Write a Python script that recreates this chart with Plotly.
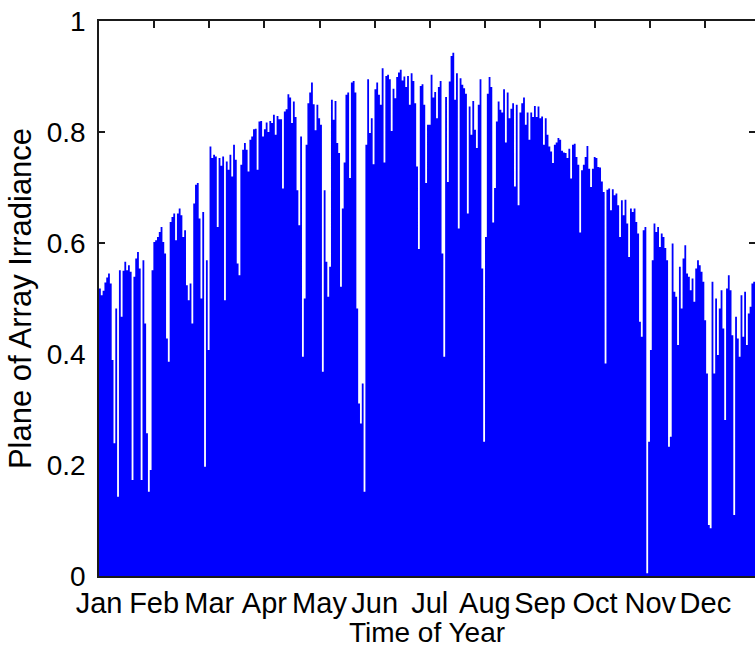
import numpy as np
import plotly.graph_objects as go

# Daily peak plane-of-array irradiance (normalised), in six ~2-month blocks
irr_jan_feb = [0.518, 0.506, 0.514, 0.529, 0.538, 0.545, 0.527, 0.389, 0.239, 0.482,
               0.143, 0.551, 0.467, 0.550, 0.566, 0.551, 0.560, 0.548, 0.173, 0.539,
               0.572, 0.584, 0.554, 0.173, 0.569, 0.455, 0.257, 0.152, 0.191, 0.551,
               0.602, 0.605, 0.611, 0.620, 0.629, 0.602, 0.581, 0.428, 0.386, 0.638,
               0.647, 0.653, 0.605, 0.653, 0.662, 0.650, 0.611, 0.623, 0.524, 0.497,
               0.527, 0.455, 0.671, 0.705, 0.708, 0.644, 0.500, 0.656, 0.197, 0.569,
               0.407]
irr_mar_apr = [0.774, 0.753, 0.759, 0.756, 0.629, 0.753, 0.739, 0.756, 0.497, 0.747,
               0.732, 0.759, 0.720, 0.777, 0.750, 0.563, 0.542, 0.741, 0.768, 0.780,
               0.768, 0.729, 0.786, 0.792, 0.805, 0.806, 0.732, 0.819, 0.820, 0.792,
               0.805, 0.817, 0.800, 0.820, 0.816, 0.831, 0.795, 0.829, 0.823, 0.823,
               0.698, 0.837, 0.841, 0.868, 0.862, 0.816, 0.855, 0.827, 0.695, 0.632,
               0.792, 0.395, 0.500, 0.777, 0.852, 0.871, 0.889, 0.850, 0.803, 0.849]
irr_may_jun = [0.825, 0.813, 0.368, 0.695, 0.566, 0.503, 0.557, 0.858, 0.822, 0.856,
               0.780, 0.762, 0.521, 0.662, 0.745, 0.867, 0.871, 0.717, 0.889, 0.892,
               0.871, 0.482, 0.311, 0.275, 0.347, 0.152, 0.777, 0.895, 0.798, 0.825,
               0.742, 0.877, 0.889, 0.867, 0.849, 0.915, 0.745, 0.901, 0.903, 0.895,
               0.802, 0.878, 0.861, 0.899, 0.907, 0.912, 0.893, 0.900, 0.881,
               0.901, 0.849, 0.906, 0.892, 0.852, 0.738, 0.589, 0.883, 0.886, 0.849,
               0.708, 0.813]
irr_jul_aug = [0.813, 0.903, 0.862, 0.872, 0.825, 0.881, 0.892, 0.581, 0.395, 0.863,
               0.710, 0.891, 0.937, 0.943, 0.858, 0.906, 0.626, 0.897, 0.885, 0.879,
               0.869, 0.653, 0.846, 0.795, 0.856, 0.804, 0.771, 0.849, 0.895, 0.554,
               0.242, 0.611, 0.869, 0.899, 0.881, 0.637, 0.699, 0.819, 0.855, 0.840,
               0.835, 0.877, 0.781, 0.871, 0.825, 0.842, 0.852, 0.702, 0.849, 0.668,
               0.835, 0.852, 0.862, 0.813, 0.835, 0.786, 0.835, 0.827, 0.847, 0.827,
               0.846]
irr_sep_oct = [0.825, 0.828, 0.777, 0.825, 0.795, 0.774, 0.765, 0.744, 0.777, 0.781,
               0.789, 0.786, 0.766, 0.763, 0.762, 0.753, 0.770, 0.716, 0.777, 0.779,
               0.755, 0.741, 0.619, 0.731, 0.741, 0.755, 0.775, 0.734, 0.701, 0.734,
               0.755, 0.753, 0.737, 0.736, 0.711, 0.692, 0.383, 0.696, 0.698, 0.659,
               0.697, 0.686, 0.689, 0.668, 0.611, 0.677, 0.650, 0.678, 0.635, 0.575,
               0.662, 0.656, 0.662, 0.638, 0.617, 0.458, 0.431, 0.623, 0.629, 0.005,
               0.242]
irr_nov_dec = [0.407, 0.569, 0.635, 0.620, 0.629, 0.593, 0.617, 0.611, 0.591, 0.569, 0.233,
               0.251, 0.599, 0.512, 0.503, 0.416, 0.557, 0.482, 0.572, 0.596, 0.545,
               0.539, 0.515, 0.536, 0.494, 0.554, 0.569, 0.560, 0.548, 0.530, 0.461,
               0.365, 0.092, 0.086, 0.530, 0.365, 0.500, 0.398, 0.482, 0.515, 0.446,
               0.281, 0.518, 0.542, 0.515, 0.434, 0.110, 0.467, 0.428, 0.395, 0.506,
               0.431, 0.512, 0.416, 0.473, 0.485, 0.527, 0.530, 0.500, 0.52, 0.51]

month_labels = ["Jan", "Feb", "Mar", "Apr", "May", "Jun",
                "Jul", "Aug", "Sep", "Oct", "Nov", "Dec"]
y_ticks = [0, 0.2, 0.4, 0.6, 0.8, 1]
y_tick_labels = ["0", "0.2", "0.4", "0.6", "0.8", "1"]

daily = np.array(irr_jan_feb + irr_mar_apr + irr_may_jun +
                 irr_jul_aug + irr_sep_oct + irr_nov_dec)
n_days = 365
x_edges = np.arange(len(daily) + 1)
y_steps = np.append(daily, daily[-1])
month_ticks = np.arange(12) * n_days / 12.0

FONT = "Liberation Sans, Arial, Helvetica, sans-serif"
AX = "#1a1a1a"

fig = go.Figure()
fig.add_trace(go.Scatter(
    x=x_edges, y=y_steps, mode="lines",
    line=dict(shape="hv", width=0, color="#0000ff"),
    fill="tozeroy", fillcolor="#0000ff",
    hoverinfo="skip", showlegend=False,
))

# the right end of the year is cropped off in the reference picture
x_visible_end = n_days * (755 - 99) / (760.5 - 99)

fig.update_layout(
    width=755, height=648,
    margin=dict(l=99, r=0, t=21, b=72, pad=0),
    paper_bgcolor="white", plot_bgcolor="white",
    font=dict(family=FONT, size=28, color="black"),
    showlegend=False,
    xaxis=dict(
        range=[0, x_visible_end], tickmode="array",
        tickvals=month_ticks, ticktext=month_labels,
        ticks="inside", ticklen=7, tickwidth=1.5, tickcolor=AX,
        showline=True, linewidth=1.5, linecolor=AX, mirror="ticks",
        layer="below traces", showgrid=False, zeroline=False,
        tickfont=dict(family=FONT, size=29, color="black"),
        title=dict(text="Time of Year", font=dict(family=FONT, size=28, color="black"),
                   standoff=4),
        automargin=False,
    ),
    yaxis=dict(
        range=[0, 1], tickmode="array",
        tickvals=y_ticks, ticktext=y_tick_labels,
        ticks="inside", ticklen=6, tickwidth=1.5, tickcolor=AX,
        showline=True, linewidth=1.5, linecolor=AX, mirror="ticks",
        layer="below traces", showgrid=False, zeroline=False,
        tickfont=dict(family=FONT, size=28, color="black"),
        ticklabelstandoff=6,
        title=dict(text="Plane of Array Irradiance",
                   font=dict(family=FONT, size=31, color="black"), standoff=6),
        automargin=False,
    ),
)

fig.write_html("out.html")
